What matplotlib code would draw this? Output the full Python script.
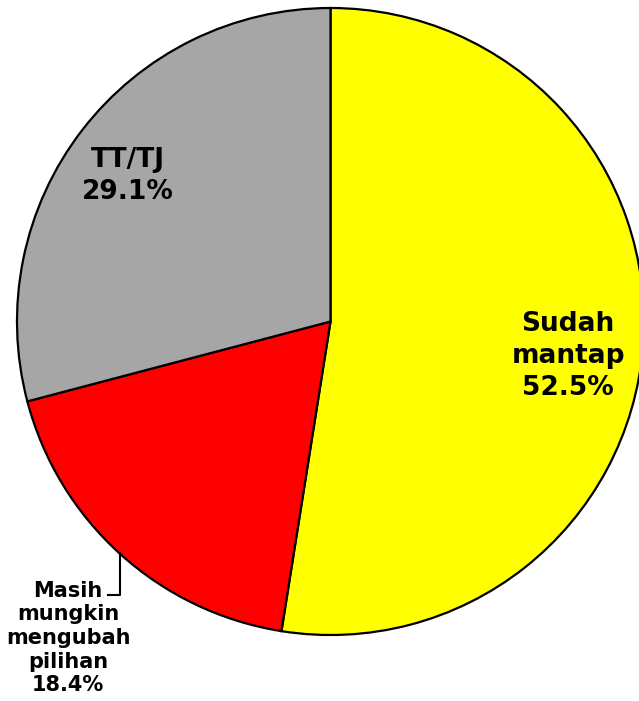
import matplotlib.pyplot as plt

labels = ["Sudah\nmantap", "Masih\nmungkin\nmengubah\npilihan", "TT/TJ"]
values = [52.5, 18.4, 29.1]
colors = ["#ffff00", "#ff0000", "#a6a6a6"]

W, H = 639, 701
fig = plt.figure(figsize=(W / 100, H / 100), dpi=100)
ax = fig.add_axes([0, 0, 1, 1])
ax.set_aspect("equal")

# pie center/radius in pixel units (y measured from the bottom)
cx, cy, r = 330.5, H - 321.5, 313.5
ax.pie(values, colors=colors, startangle=90, counterclock=False,
       center=(cx, cy), radius=r, frame=True,
       wedgeprops=dict(edgecolor="black", linewidth=1.6))
ax.set_xlim(0, W)
ax.set_ylim(0, H)
ax.axis("off")

font = dict(family="DejaVu Sans", weight="bold", color="black", ha="center", va="center")

ax.text(568, H - 356, f"{labels[0]}\n{values[0]}%", fontsize=19, linespacing=1.3, **font)
ax.text(128, H - 176, f"{labels[2]}\n{values[2]}%", fontsize=19, linespacing=1.3, **font)
ax.text(68, H - 638, f"{labels[1]}\n{values[1]}%", fontsize=15, linespacing=1.23, **font)

# leader line for the small slice
ax.plot([120, 120, 108], [H - 553, H - 595, H - 595], color="black", linewidth=1.5)

fig.savefig("out.png", dpi=100)
